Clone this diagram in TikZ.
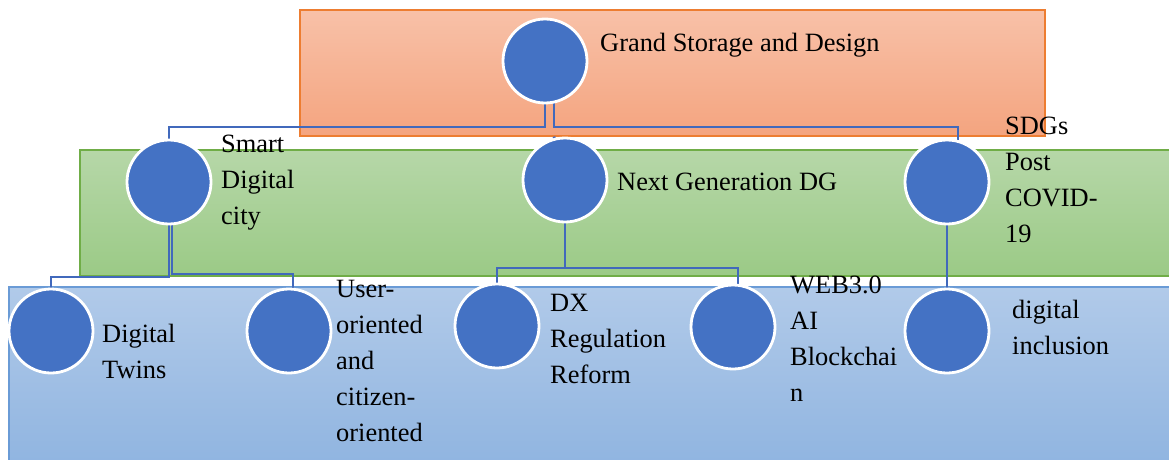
\documentclass[tikz,border=0pt]{standalone}
\usepackage{fontspec}
\setmainfont{Liberation Serif}
\pgfdeclarelayer{back}
\pgfdeclarelayer{mid}
\pgfsetlayers{back,mid,main}
\definecolor{nodeblue}{HTML}{4472C4}
\definecolor{linkblue}{HTML}{4169BC}
\definecolor{orTop}{HTML}{F8C1A8}
\definecolor{orBot}{HTML}{F4A47F}
\definecolor{orLine}{HTML}{ED7D31}
\definecolor{grTop}{HTML}{B6D7A8}
\definecolor{grBot}{HTML}{9BCA86}
\definecolor{grLine}{HTML}{70AD47}
\definecolor{blTop}{HTML}{B1CAE9}
\definecolor{blBot}{HTML}{8FB4E0}
\definecolor{blLine}{HTML}{6A9BD6}
\begin{document}
\begin{tikzpicture}[x=1pt,y=-1pt,
  bubble/.style={circle,fill=nodeblue,draw=white,line width=2.8pt,minimum size=84pt,inner sep=0pt},
  conn/.style={draw=linkblue,line width=2.8pt},
  lbl/.style={anchor=base west,align=left,inner sep=0pt,font=\fontsize{26.4}{36.2}\selectfont},
  band/.style={line width=1.5pt}]
\useasboundingbox (0,0) rectangle (1169,460);

\begin{pgfonlayer}{back}
\fill[white] (0,0) rectangle (1169,460);
\begin{scope}
\clip (0,0) rectangle (1169,460);
\shade[top color=orTop,bottom color=orBot] (300,10) rectangle (1045,136);
\draw[band,draw=orLine] (300,10) rectangle (1045,136);
\shade[top color=grTop,bottom color=grBot] (80,150) rectangle (1180,276);
\draw[band,draw=grLine] (80,150) rectangle (1180,276);
\shade[top color=blTop,bottom color=blBot] (9,287) rectangle (1180,470);
\draw[band,draw=blLine] (9,287) rectangle (1180,470);
\end{scope}
\end{pgfonlayer}

% nodes
\node[bubble] (top) at (545,61) {};
\node[bubble] (sdc) at (169,182) {};
\node[bubble] (ng)  at (565,180) {};
\node[bubble] (sdg) at (947,182) {};
\node[bubble] (dt)  at (51,331) {};
\node[bubble] (uo)  at (289,331) {};
\node[bubble] (dx)  at (497,326) {};
\node[bubble] (web) at (733,327) {};
\node[bubble] (di)  at (947,331) {};

% connectors
\begin{pgfonlayer}{mid}
\draw[conn] (top.center) -- ++(0,66) -| (sdc.center);
\draw[conn] ([xshift=9pt]top.center) -- ++(0,66) -| ([xshift=11pt]sdg.center);
\draw[conn] (ng.center) -- ([xshift=9pt]top.center |- ng.north);
\draw[conn] (sdc.center) -- ++(0,95) -| (dt.center);
\draw[conn] ([xshift=3pt]sdc.center) -- ++(0,92) -| ([xshift=4pt]uo.center);
\draw[conn] (ng.center) -- ++(0,88) -| (dx.center);
\draw[conn] (ng.center) -- ++(0,88) -| ([xshift=5pt]web.center);
\draw[conn] (sdg.center) -- (di.center);
\end{pgfonlayer}

% labels (base anchor = baseline of the last line)
\node[lbl] (lgsd) at (600,52) {Grand Storage and Design};
\node[lbl] (lsdc) at (221,224.4) {Smart\\Digital\\city};
\node[lbl] (lng)  at (617,190) {Next Generation DG};
\node[lbl] (lsdg) at (1005,242.6) {SDGs\\Post\\COVID-\\19};
\node[lbl] (ldt)  at (102,378.2) {Digital\\Twins};
\node[lbl] (luo)  at (336,441.8) {User-\\oriented\\and\\citizen-\\oriented};
\node[lbl] (ldx)  at (550,383.4) {DX\\Regulation\\Reform};
\node[lbl] (lweb) at (790,401.6) {WEB3.0\\AI\\Blockchai\\n};
\node[lbl] (ldi)  at (1012,354.2) {digital\\inclusion};
\end{tikzpicture}
\end{document}
